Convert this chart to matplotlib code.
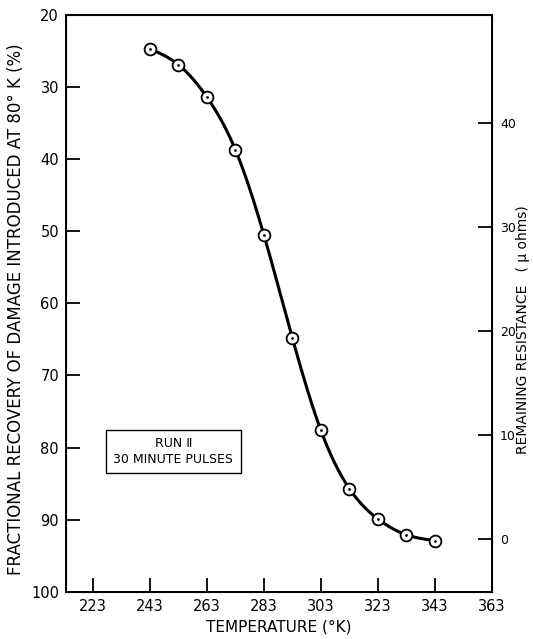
import numpy as np
import matplotlib.pyplot as plt

# data
temperature = [243, 253, 263, 273, 283, 293, 303, 313, 323, 333, 343]
recovery = [24.7, 26.9, 31.4, 38.7, 50.5, 64.8, 77.6, 85.7, 89.9, 92.1, 92.9]
xticks = [223, 243, 263, 283, 303, 323, 343, 363]
yticks = [20, 30, 40, 50, 60, 70, 80, 90, 100]
res_ticks = [0, 10, 20, 30, 40]


def natural_spline(x, y, xs):
    x = np.asarray(x, float)
    y = np.asarray(y, float)
    n = len(x)
    h = np.diff(x)
    A = np.zeros((n, n))
    b = np.zeros(n)
    A[0, 0] = A[-1, -1] = 1
    for i in range(1, n - 1):
        A[i, i - 1] = h[i - 1]
        A[i, i] = 2 * (h[i - 1] + h[i])
        A[i, i + 1] = h[i]
        b[i] = 3 * ((y[i + 1] - y[i]) / h[i] - (y[i] - y[i - 1]) / h[i - 1])
    c = np.linalg.solve(A, b)
    out = np.empty_like(xs)
    for k, xv in enumerate(xs):
        i = min(np.searchsorted(x, xv) - 1, n - 2)
        i = max(i, 0)
        dx = xv - x[i]
        bi = (y[i + 1] - y[i]) / h[i] - h[i] * (2 * c[i] + c[i + 1]) / 3
        di = (c[i + 1] - c[i]) / (3 * h[i])
        out[k] = y[i] + bi * dx + c[i] * dx ** 2 + di * dx ** 3
    return out


plt.rcParams['font.family'] = ['DejaVu Sans']
fig = plt.figure(figsize=(5.33, 6.39), dpi=100)
ax = fig.add_axes([0.1238, 0.074, 0.7987, 0.9025])

xs = np.linspace(temperature[0], temperature[-1], 300)
ax.plot(xs, natural_spline(temperature, recovery, xs), color='black', lw=2.2, zorder=2)
ax.plot(temperature, recovery, 'o', ms=8.5, mfc='white', mec='black', mew=1.3, zorder=3)
ax.plot(temperature, recovery, '.', ms=2, color='black', zorder=4)

ax.set_xlim(213.5, 363)
ax.set_ylim(100, 20)
ax.set_xticks(xticks)
ax.set_yticks(yticks)
ax.tick_params(direction='in', length=10, width=1.3, labelsize=10.5, pad=5)
for s in ax.spines.values():
    s.set_linewidth(1.4)
ax.set_xlabel('TEMPERATURE (°K)', fontsize=11, labelpad=4)
ax.set_ylabel('FRACTIONAL RECOVERY OF DAMAGE INTRODUCED AT 80° K (%)', fontsize=12)
ax.yaxis.set_label_coords(-0.097, 0.49)

# right axis: remaining resistance
ax2 = ax.twinx()
ax2.set_ylim(-5.07, 50.4)
ax2.set_yticks(res_ticks)
ax2.tick_params(direction='in', length=10, width=1.3, labelsize=9, pad=6)
ax2.set_ylabel('REMAINING RESISTANCE   ( μ ohms)', fontsize=10)
ax2.yaxis.set_label_coords(1.058, 0.455)

ax.text(0.252, 0.243, 'RUN Ⅱ\n30 MINUTE PULSES', transform=ax.transAxes,
        ha='center', va='center', fontsize=9, linespacing=1.25,
        bbox=dict(boxstyle='square,pad=0.6', fc='white', ec='black', lw=1))

fig.savefig('out.png', dpi=100)
